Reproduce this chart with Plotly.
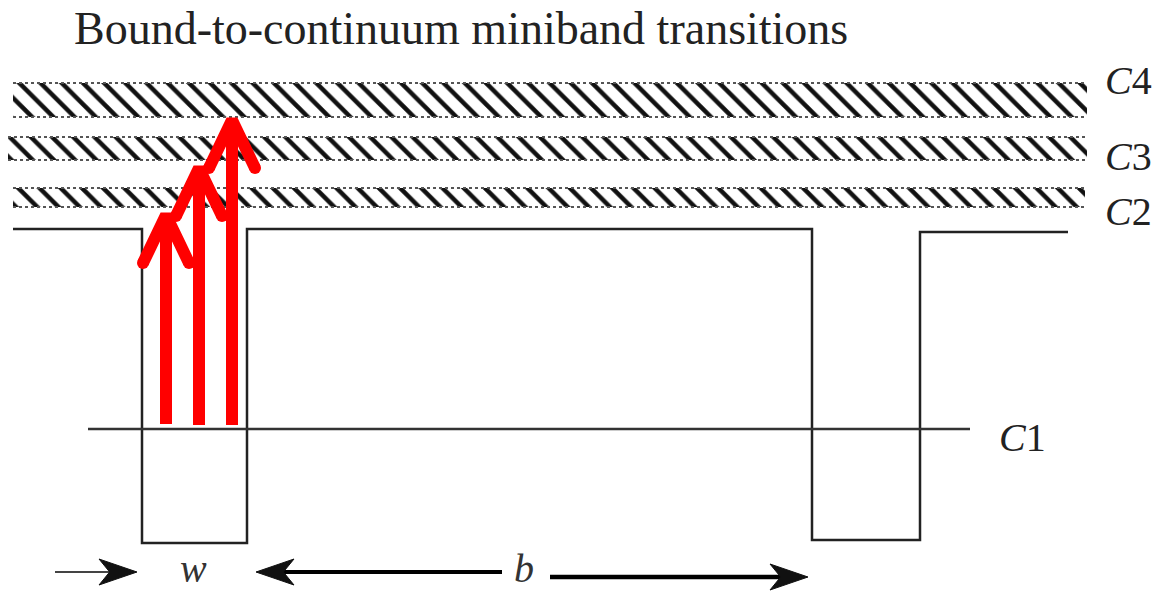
import plotly.graph_objects as go

W, H = 1159, 593

title_text = "Bound-to-continuum miniband transitions"

# minibands (hatched continuum bands)
band_labels = ["<i>C</i>4", "<i>C</i>3", "<i>C</i>2"]
band_top = [83, 137, 188]
band_bottom = [117, 160, 207]
band_left = [13, 8, 13]
band_right = [1087, 1087, 1085]
band_label_y = [80, 156, 211]
band_label_x = 1128

# potential profile (two quantum wells)
profile_x = [13, 142, 142, 247, 247, 812, 812, 920, 920, 1068]
profile_y = [229, 229, 543, 543, 229, 229, 540, 540, 232, 232]

# bound state C1
c1_x = [88, 970]
c1_y = [429, 429]

# transition arrows
arrow_x = [166, 199, 232]
arrow_base = [424, 425, 425]
arrow_tip = [215, 168, 120]
head_half = 23
head_len = 48

fig = go.Figure()

# hatched bands
for lab, t, b, l, r, ly in zip(band_labels, band_top, band_bottom, band_left, band_right, band_label_y):
    fig.add_trace(go.Scatter(
        x=[l, r, r, l, l], y=[t, t, b, b, t], mode="lines", fill="toself",
        line=dict(width=0, color="rgba(0,0,0,0)"),
        fillcolor="white",
        fillpattern=dict(shape="\\", fgcolor="#111", fgopacity=1, bgcolor="white",
                         size=15, solidity=0.3),
        hoverinfo="skip", showlegend=False))
    for yy in (t, b):
        fig.add_trace(go.Scatter(x=[l, r], y=[yy, yy], mode="lines",
                                 line=dict(color="#555", width=2, dash="dot"),
                                 hoverinfo="skip", showlegend=False))
    fig.add_annotation(x=band_label_x, y=ly, text=lab, showarrow=False,
                       font=dict(family="Liberation Serif", size=40, color="#222"))

# potential profile
fig.add_trace(go.Scatter(x=profile_x, y=profile_y, mode="lines",
                         line=dict(color="#222", width=2.5),
                         hoverinfo="skip", showlegend=False))

# C1 level
fig.add_trace(go.Scatter(x=c1_x, y=c1_y, mode="lines",
                         line=dict(color="#333", width=2.5),
                         hoverinfo="skip", showlegend=False))
fig.add_annotation(x=1022, y=437, text="<i>C</i>1", showarrow=False,
                   font=dict(family="Liberation Serif", size=40, color="#222"))

# red arrows
for ax_, base, tip in zip(arrow_x, arrow_base, arrow_tip):
    fig.add_trace(go.Scatter(x=[ax_, ax_], y=[base, tip + 4], mode="lines",
                             line=dict(color="red", width=12),
                             hoverinfo="skip", showlegend=False))
    fig.add_trace(go.Scatter(x=[ax_ - head_half, ax_, ax_ + head_half],
                             y=[tip + head_len, tip, tip + head_len], mode="lines",
                             line=dict(color="red", width=12),
                             hoverinfo="skip", showlegend=False))
    fig.add_trace(go.Scatter(x=[ax_ - head_half, ax_ + head_half],
                             y=[tip + head_len, tip + head_len], mode="markers",
                             marker=dict(color="red", size=12, line=dict(width=0)),
                             hoverinfo="skip", showlegend=False))

# bottom dimension arrows
seg_x = [[55, 110], [283, 502], [550, 785]]
seg_y = [572, 572, 577]
seg_w = [2, 4, 4.5]
seg_c = ["#444", "#000", "#000"]
for xs, yy, ww, cc in zip(seg_x, seg_y, seg_w, seg_c):
    fig.add_trace(go.Scatter(x=xs, y=[yy, yy], mode="lines", line=dict(color=cc, width=ww),
                             hoverinfo="skip", showlegend=False))

# arrowheads: tip x, y, direction
head_tip_x = [137, 256, 808]
head_tip_y = [572, 572, 577]
head_dir = [1, -1, 1]
head_length = 38
head_width = 13
for tx, ty, d in zip(head_tip_x, head_tip_y, head_dir):
    bx = tx - d * head_length
    nx = tx - d * head_length * 0.72
    fig.add_trace(go.Scatter(x=[tx, bx, nx, bx, tx], y=[ty, ty - head_width, ty, ty + head_width, ty],
                             mode="lines", fill="toself", fillcolor="#111",
                             line=dict(color="#111", width=1),
                             hoverinfo="skip", showlegend=False))

fig.add_annotation(x=193, y=592, yanchor="bottom", text="<i>w</i>", showarrow=False, borderpad=0,
                   font=dict(family="Liberation Serif", size=40, color="#333"))
fig.add_annotation(x=524, y=592, yanchor="bottom", text="<i>b</i>", showarrow=False, borderpad=0,
                   font=dict(family="Liberation Serif", size=40, color="#333"))

# title
fig.add_annotation(x=72, y=28, xanchor="left", text=title_text, showarrow=False,
                   font=dict(family="Liberation Serif", size=46, color="#222"))

fig.update_xaxes(range=[0, W], visible=False, fixedrange=True)
fig.update_yaxes(range=[H, 0], visible=False, fixedrange=True)
fig.update_layout(width=W, height=H, margin=dict(l=0, r=0, t=0, b=0),
                  paper_bgcolor="white", plot_bgcolor="white", showlegend=False)

fig.write_html("out.html")
